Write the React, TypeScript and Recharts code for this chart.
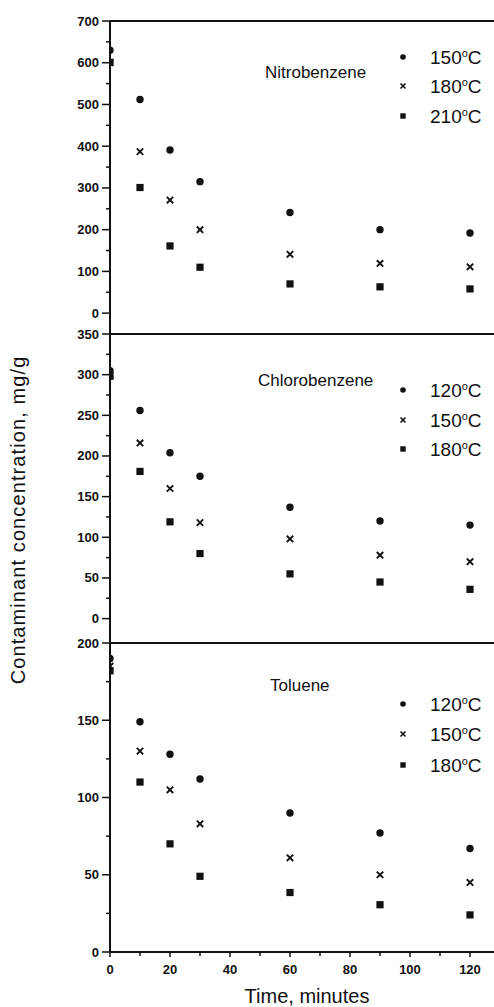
import React from "react";
import { ScatterChart, Scatter, XAxis, YAxis, ReferenceLine } from "recharts";

const TIME = [0, 10, 20, 30, 60, 90, 120];
const X_TICKS = [0, 10, 20, 30, 40, 50, 60, 70, 80, 90, 100, 110, 120];

const NITRO_150 = [630, 512, 391, 315, 241, 200, 192];
const NITRO_180 = [600, 387, 271, 200, 141, 119, 111];
const NITRO_210 = [601, 301, 161, 110, 70, 63, 58];

const CHLORO_120 = [305, 256, 204, 175, 137, 120, 115];
const CHLORO_150 = [300, 216, 160, 118, 98, 78, 70];
const CHLORO_180 = [298, 181, 119, 80, 55, 45, 36];

const TOL_120 = [190, 149, 128, 112, 90, 77, 67];
const TOL_150 = [185, 130, 105, 83, 61, 50, 45];
const TOL_180 = [182, 110, 70, 49, 38.5, 30.6, 24];

const NITRO_TICKS = [0, 50, 100, 150, 200, 250, 300, 350, 400, 450, 500, 550, 600, 650, 700];
const CHLORO_TICKS = [0, 25, 50, 75, 100, 125, 150, 175, 200, 225, 250, 275, 300, 325, 350];
const TOL_TICKS = [0, 25, 50, 75, 100, 125, 150, 175, 200];

const W = 494;
const H = 1007;
const AXIS_X = 110;
const AXIS_Y = 952;
const XMAX = 128;
const FONT = "'Liberation Sans', Arial, Helvetica, sans-serif";
const INK = "#111";

const toPts = (vals: number[]) => vals.map((v, i) => ({ x: TIME[i], y: v }));

const Dot = (p: any) => <circle cx={p.cx} cy={p.cy} r={3.7} fill={INK} />;
const Cross = (p: any) => (
  <path
    d={`M${p.cx - 3.2},${p.cy - 3.2}L${p.cx + 3.2},${p.cy + 3.2}M${p.cx + 3.2},${p.cy - 3.2}L${p.cx - 3.2},${p.cy + 3.2}`}
    stroke={INK}
    strokeWidth={1.9}
    fill="none"
  />
);
const Sq = (p: any) => <rect x={p.cx - 3.6} y={p.cy - 3.6} width={7.2} height={7.2} fill={INK} />;

const makeYTick = (majorStep: number) => (props: any) => {
  const { y, payload } = props;
  const v = payload.value;
  const major = v % majorStep === 0;
  return (
    <g>
      <line x1={AXIS_X - (major ? 8 : 4)} x2={AXIS_X} y1={y} y2={y} stroke={INK} strokeWidth={1.5} />
      {major && (
        <text
          x={AXIS_X - 11}
          y={y}
          textAnchor="end"
          dominantBaseline="central"
          fontFamily={FONT}
          fontWeight={700}
          fontSize={13}
          fill={INK}
        >
          {v}
        </text>
      )}
    </g>
  );
};

const XTick = (props: any) => {
  const { x, payload } = props;
  const v = payload.value;
  const major = v % 20 === 0;
  return (
    <g>
      <line x1={x} x2={x} y1={AXIS_Y} y2={AXIS_Y + (major ? 5 : 4)} stroke={INK} strokeWidth={1.5} />
      {major && (
        <text
          x={x}
          y={AXIS_Y + 17}
          textAnchor="middle"
          dominantBaseline="central"
          fontFamily={FONT}
          fontWeight={700}
          fontSize={13}
          fill={INK}
        >
          {v}
        </text>
      )}
    </g>
  );
};

type PanelProps = {
  top: number;
  bottom: number;
  domain: [number, number];
  ticks: number[];
  majorStep: number;
  series: number[][];
  showX: boolean;
};

const Panel = ({ top, bottom, domain, ticks, majorStep, series, showX }: PanelProps) => (
  <div style={{ position: "absolute", left: 0, top: 0, width: W, height: H }}>
    <ScatterChart
      width={W}
      height={H}
      margin={{ top, bottom: showX ? H - bottom - 30 : H - bottom, left: 0, right: 0 }}
    >
      <XAxis
        type="number"
        dataKey="x"
        domain={[0, XMAX]}
        ticks={X_TICKS}
        interval={0}
        hide={!showX}
        height={30}
        axisLine={{ stroke: INK, strokeWidth: 2 }}
        tickLine={false}
        tick={<XTick />}
        allowDataOverflow
      />
      <YAxis
        type="number"
        dataKey="y"
        domain={domain}
        ticks={ticks}
        interval={0}
        width={AXIS_X}
        axisLine={{ stroke: INK, strokeWidth: 2 }}
        tickLine={false}
        tick={makeYTick(majorStep)}
        allowDataOverflow
      />
      <ReferenceLine y={domain[1]} stroke={INK} strokeWidth={2} />
      <Scatter data={toPts(series[0])} shape={Dot} isAnimationActive={false} />
      <Scatter data={toPts(series[1])} shape={Cross} isAnimationActive={false} />
      <Scatter data={toPts(series[2])} shape={Sq} isAnimationActive={false} />
    </ScatterChart>
  </div>
);

const Deg = ({ x, y, t }: { x: number; y: number; t: string }) => (
  <text x={x} y={y} fontFamily={FONT} fontSize={19} fill={INK}>
    {t}
    <tspan fontSize={11} dy={-7}>o</tspan>
    <tspan dy={7}>C</tspan>
  </text>
);

const LegendBlock = ({ rows, labels }: { rows: number[]; labels: string[] }) => (
  <g>
    <circle cx={403} cy={rows[0]} r={2.8} fill={INK} />
    <path
      d={`M${400.5},${rows[1] - 2.5}L${405.5},${rows[1] + 2.5}M${405.5},${rows[1] - 2.5}L${400.5},${rows[1] + 2.5}`}
      stroke={INK}
      strokeWidth={1.6}
    />
    <rect x={400.3} y={rows[2] - 2.7} width={5.4} height={5.4} fill={INK} />
    {labels.map((l, i) => (
      <Deg key={l} x={430} y={rows[i] + 6.5} t={l} />
    ))}
  </g>
);

export default function App() {
  return (
    <div style={{ position: "absolute", left: 0, top: 0, width: W, height: H, background: "#fff" }}>
      <Panel top={21} bottom={334} domain={[-50, 700]} ticks={NITRO_TICKS} majorStep={100}
        series={[NITRO_150, NITRO_180, NITRO_210]} showX={false} />
      <Panel top={334} bottom={643} domain={[-30, 350]} ticks={CHLORO_TICKS} majorStep={50}
        series={[CHLORO_120, CHLORO_150, CHLORO_180]} showX={false} />
      <Panel top={643} bottom={952} domain={[0, 200]} ticks={TOL_TICKS} majorStep={50}
        series={[TOL_120, TOL_150, TOL_180]} showX={true} />
      <svg width={W} height={H} style={{ position: "absolute", left: 0, top: 0, pointerEvents: "none" }}>
        <text x={265} y={78} fontFamily={FONT} fontSize={17} fill={INK}>Nitrobenzene</text>
        <text x={258} y={386} fontFamily={FONT} fontSize={17} fill={INK}>Chlorobenzene</text>
        <text x={270} y={691} fontFamily={FONT} fontSize={17} fill={INK}>Toluene</text>
        <LegendBlock rows={[57, 86, 116]} labels={["150", "180", "210"]} />
        <LegendBlock rows={[390, 420, 449]} labels={["120", "150", "180"]} />
        <LegendBlock rows={[704, 734, 765]} labels={["120", "150", "180"]} />
        <text x={307} y={1003} textAnchor="middle" fontFamily={FONT} fontSize={20} fill={INK}>
          Time, minutes
        </text>
        <text
          x={25}
          y={520}
          transform="rotate(-90 25 520)"
          textAnchor="middle"
          fontFamily={FONT}
          fontSize={20}
          letterSpacing={1.1}
          fill={INK}
        >
          Contaminant concentration, mg/g
        </text>
      </svg>
    </div>
  );
}
